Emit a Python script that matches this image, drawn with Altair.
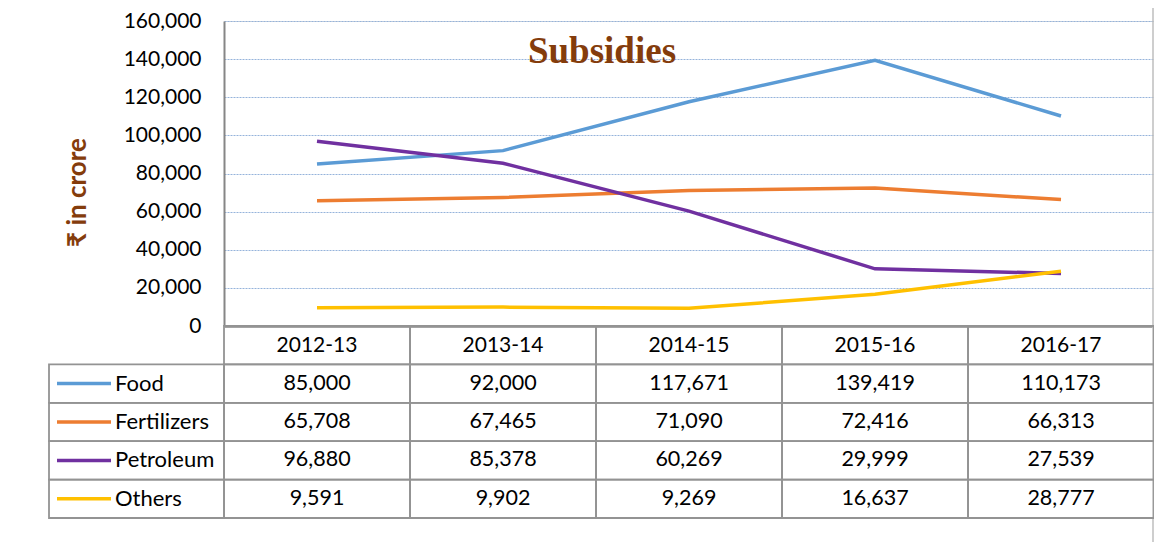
import altair as alt
import pandas as pd

years = ["2012-13", "2013-14", "2014-15", "2015-16", "2016-17"]
series_names = ["Food", "Fertilizers", "Petroleum", "Others"]
food = [85000, 92000, 117671, 139419, 110173]
fertilizers = [65708, 67465, 71090, 72416, 66313]
petroleum = [96880, 85378, 60269, 29999, 27539]
others = [9591, 9902, 9269, 16637, 28777]
series_colors = ["#5B9BD5", "#ED7D31", "#7030A0", "#FFC000"]
y_ticks = [0, 20000, 40000, 60000, 80000, 100000, 120000, 140000, 160000]
table_rows = ["header"] + series_names

W, H = 930, 305
FONT = "Lato"
GRAY = "#939393"

values_by_series = {"Food": food, "Fertilizers": fertilizers,
                    "Petroleum": petroleum, "Others": others}
long_df = pd.DataFrame([
    {"year": y, "row": s, "value": v}
    for s in series_names for y, v in zip(years, values_by_series[s])
])
cells_df = pd.DataFrame([{"year": y, "row": r} for r in table_rows for y in years])
labels_df = pd.DataFrame({"row": series_names})
dummy = pd.DataFrame({"t": ["Subsidies"]})

band_x = alt.Scale(type="band", domain=years, paddingInner=0, paddingOuter=0)
row_scale = alt.Scale(type="band", domain=table_rows, range=[H, H + 192],
                      paddingInner=0, paddingOuter=0)
color_scale = alt.Scale(domain=series_names, range=series_colors)

frame = alt.Chart(dummy).mark_rect(filled=False, color="#BFBFBF", strokeWidth=1.5).encode(
    x=alt.value(-217), x2=alt.value(W - 1), y=alt.value(-14), y2=alt.value(600)
)

title = alt.Chart(dummy).mark_text(
    font="Liberation Serif", fontSize=37, fontWeight="bold", color="#843C0C",
    align="center", baseline="alphabetic"
).encode(x=alt.value(378), y=alt.value(42), text="t:N")

lines = alt.Chart(long_df).mark_line(strokeWidth=3.5).encode(
    x=alt.X("year:N", bandPosition=0.5, scale=band_x, sort=years,
            axis=alt.Axis(title=None, labelFontSize=21, labelFont=FONT, labelColor="#000",
                          labelAngle=0, labelBaseline="middle", labelPadding=19,
                          ticks=False, domainColor="#868686", domainWidth=2.5, grid=False)),
    y=alt.Y("value:Q", scale=alt.Scale(domain=[0, 160000], nice=False),
            axis=alt.Axis(values=y_ticks, format=",.0f", title="₹ in crore",
                          titleFont=FONT, titleFontSize=26, titleFontWeight="bold",
                          titleColor="#843C0C", titleX=-139, titleY=171, titleAngle=270,
                          titleAlign="center", titleBaseline="alphabetic",
                          labelFont=FONT, labelFontSize=21, labelColor="#000",
                          labelPadding=23, ticks=False,
                          domainColor="#868686", domainWidth=2,
                          gridColor="#95B3DB", gridDash=[2, 1], gridWidth=1)),
    color=alt.Color("row:N", scale=color_scale, legend=None),
)

cells = alt.Chart(cells_df).mark_rect(filled=False, color=GRAY, strokeWidth=1.8).encode(
    x=alt.X("year:N", scale=band_x, axis=None),
    y=alt.Y("row:N", scale=row_scale, axis=None),
)
value_text = alt.Chart(long_df).mark_text(
    font=FONT, fontSize=21.5, color="#000", align="center", baseline="middle"
).encode(
    x=alt.X("year:N", scale=band_x, axis=None, bandPosition=0.5),
    y=alt.Y("row:N", scale=row_scale, axis=None, bandPosition=0.5),
    text=alt.Text("value:Q", format=","),
)
label_cells = alt.Chart(labels_df).mark_rect(filled=False, color=GRAY, strokeWidth=1.8).encode(
    x=alt.value(-175), x2=alt.value(0),
    y=alt.Y("row:N", scale=row_scale, axis=None),
)
legend_lines = alt.Chart(labels_df).mark_rule(strokeWidth=3.5).encode(
    x=alt.value(-167), x2=alt.value(-113),
    y=alt.Y("row:N", scale=row_scale, axis=None, bandPosition=0.5),
    color=alt.Color("row:N", scale=color_scale, legend=None),
)
label_text = alt.Chart(labels_df).mark_text(
    font=FONT, fontSize=22, color="#000", align="left", baseline="middle"
).encode(
    x=alt.value(-109),
    y=alt.Y("row:N", scale=row_scale, axis=None, bandPosition=0.5),
    text="row:N",
)

table = alt.layer(cells, value_text, label_cells, legend_lines, label_text)

chart = alt.layer(frame, title, lines, table).resolve_scale(
    x="independent", y="independent", color="independent"
).properties(
    width=W, height=H,
    padding={"left": 216, "top": 13, "right": 0, "bottom": 216},
    autosize=alt.AutoSizeParams(type="none"),
).configure_view(stroke=None).configure(font=FONT)

chart.save("out.html", embed_options={"renderer": "svg", "actions": False})
